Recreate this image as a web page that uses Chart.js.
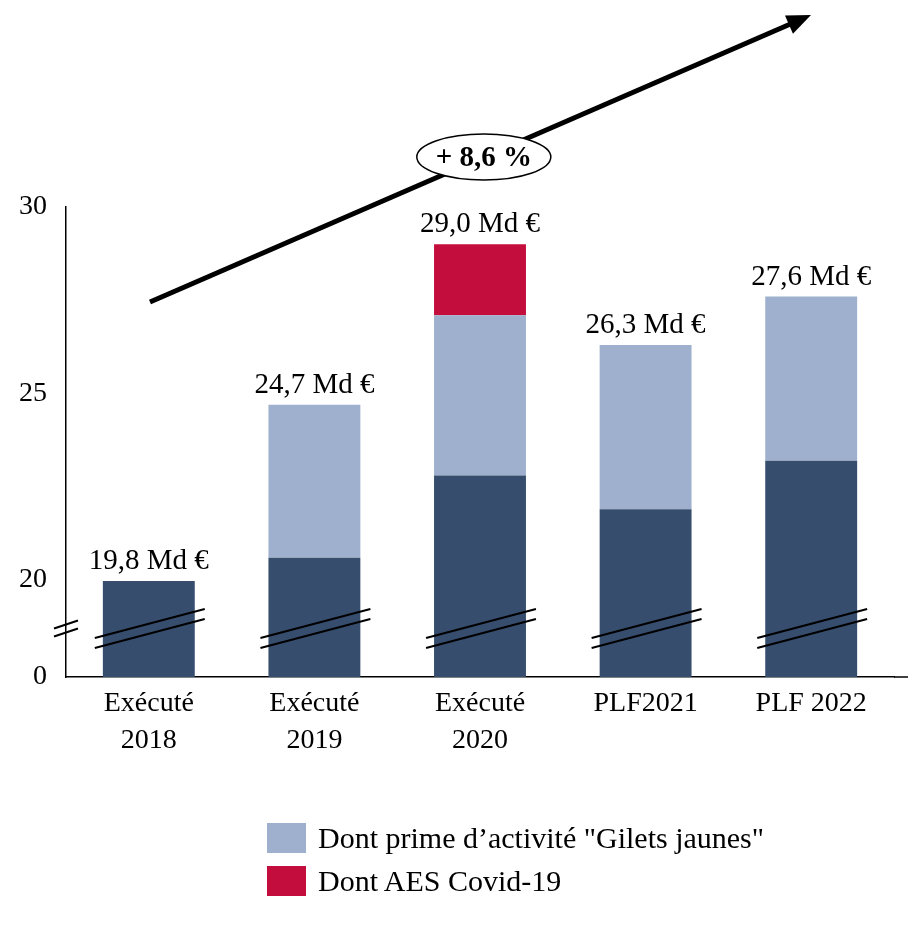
<!DOCTYPE html>
<html>
<head>
<meta charset="utf-8">
<script src="https://cdn.jsdelivr.net/npm/chart.js@4.4.1/dist/chart.umd.min.js"></script>
<style>
    body { margin: 0; background: #fff; }
    #wrap { position: relative; width: 908px; height: 930px; }
    #legend { position: absolute; left: 267px; top: 816px; font-family: 'Liberation Serif', serif; font-size: 30px; color: #000; }
    .item { display: flex; align-items: center; height: 43px; }
    .box { width: 39px; height: 30px; margin-right: 12px; }
</style>
</head>
<body>
<div id="wrap">
    <canvas id="barChart" width="908" height="930"></canvas>
    <div id="legend"></div>
</div>
<script>
const categories = [['Exécuté', '2018'], ['Exécuté', '2019'], ['Exécuté', '2020'], 'PLF2021', 'PLF 2022'];
const baseValues = [19.8, 20.6, 22.8, 21.9, 23.2];
const giletsJaunes = [0, 4.1, 4.3, 4.4, 4.4];
const aesCovid = [0, 0, 1.9, 0, 0];
const yTicks = [0, 20, 25, 30];

const colors = {
    base: '#364D6D',
    gilets: '#9EB0CD',
    aes: '#C30D3D'
};

// broken axis: 0..20 squeezed into 2.6 units, above 20 linear
const BREAK_AT = 20;
const BREAK_UNITS = 2.6;
function toDisplay(v) {
    return v >= BREAK_AT ? v - BREAK_AT + BREAK_UNITS : v * BREAK_UNITS / BREAK_AT;
}

const totals = baseValues.map((v, i) => v + giletsJaunes[i] + aesCovid[i]);

const decorations = {
    id: 'decorations',
    afterDatasetsDraw(chart) {
        const ctx = chart.ctx;
        const area = chart.chartArea;
        const y = chart.scales.y;
        const breakY = y.getPixelForValue(BREAK_UNITS / 2);
        ctx.save();

        // x axis line runs to the right edge
        ctx.strokeStyle = '#000';
        ctx.lineWidth = 1.5;
        ctx.beginPath();
        ctx.moveTo(area.right, area.bottom);
        ctx.lineTo(chart.width, area.bottom);
        ctx.stroke();

        // break marks on bars
        ctx.lineWidth = 2;
        const meta = chart.getDatasetMeta(0);
        meta.data.forEach(bar => {
            const x1 = bar.x - bar.width / 2 - 8;
            const x2 = bar.x + bar.width / 2 + 10;
            const cx = (x1 + x2) / 2;
            [-5, 5].forEach(off => {
                ctx.beginPath();
                ctx.moveTo(x1, breakY + off + (cx - x1) * 0.264);
                ctx.lineTo(x2, breakY + off - (x2 - cx) * 0.264);
                ctx.stroke();
            });
        });
        // break marks on y axis
        [-4, 4].forEach(off => {
            ctx.beginPath();
            ctx.moveTo(area.left - 12, breakY + off + 4);
            ctx.lineTo(area.left + 12, breakY + off - 4);
            ctx.stroke();
        });

        // total labels
        ctx.fillStyle = '#000';
        ctx.font = "29px 'Liberation Serif', serif";
        ctx.textAlign = 'center';
        ctx.textBaseline = 'alphabetic';
        meta.data.forEach((bar, i) => {
            const top = y.getPixelForValue(toDisplay(totals[i]));
            ctx.fillText(totals[i].toFixed(1).replace('.', ',') + ' Md €', bar.x, top - 12);
        });

        // growth arrow
        const sx = area.left + 84, sy = area.top + 95;
        const ex = area.left + 745, ey = 15;
        ctx.strokeStyle = '#000';
        ctx.lineWidth = 5;
        const ang = Math.atan2(ey - sy, ex - sx);
        ctx.beginPath();
        ctx.moveTo(sx, sy);
        ctx.lineTo(ex - 18 * Math.cos(ang), ey - 18 * Math.sin(ang));
        ctx.stroke();
        ctx.beginPath();
        ctx.moveTo(ex, ey);
        ctx.lineTo(ex - 24 * Math.cos(ang) + 10 * Math.sin(ang), ey - 24 * Math.sin(ang) - 10 * Math.cos(ang));
        ctx.lineTo(ex - 24 * Math.cos(ang) - 10 * Math.sin(ang), ey - 24 * Math.sin(ang) + 10 * Math.cos(ang));
        ctx.closePath();
        ctx.fill();

        // label bubble on the arrow
        const t = 0.505;
        const bx = sx + (ex - sx) * t, by = sy + (ey - sy) * t;
        ctx.beginPath();
        ctx.ellipse(bx, by, 67, 23, 0, 0, Math.PI * 2);
        ctx.fillStyle = '#fff';
        ctx.fill();
        ctx.lineWidth = 1.5;
        ctx.stroke();
        ctx.fillStyle = '#000';
        ctx.font = "bold 29px 'Liberation Serif', serif";
        ctx.textBaseline = 'middle';
        ctx.fillText('+ 8,6 %', bx, by + 1);
        ctx.restore();
    }
};

Chart.defaults.font.family = "'Liberation Serif', serif";
Chart.defaults.color = '#000';

const ctxBar = document.getElementById('barChart').getContext('2d');
const barChart = new Chart(ctxBar, {
    type: 'bar',
    data: {
        labels: categories,
        datasets: [{
            label: 'Base',
            data: baseValues.map(toDisplay),
            backgroundColor: colors.base,
            barPercentage: 0.555,
            categoryPercentage: 1
        },
        {
            label: 'Dont prime d\u2019activité "Gilets jaunes"',
            data: giletsJaunes,
            backgroundColor: colors.gilets,
            barPercentage: 0.555,
            categoryPercentage: 1
        },
        {
            label: 'Dont AES Covid-19',
            data: aesCovid,
            backgroundColor: colors.aes,
            barPercentage: 0.555,
            categoryPercentage: 1
        }]
    },
    options: {
        responsive: false,
        animation: false,
        layout: {
            padding: { top: 207, right: 14, left: 0, bottom: 0 }
        },
        plugins: {
            legend: { display: false },
            tooltip: { enabled: false }
        },
        scales: {
            x: {
                stacked: true,
                grid: { display: false, drawTicks: false },
                border: { color: '#000', width: 1.5 },
                ticks: {
                    font: { size: 28, lineHeight: 1.32 },
                    padding: 8
                },
                afterFit: scale => { scale.height = 253; }
            },
            y: {
                stacked: true,
                min: 0,
                max: toDisplay(30),
                grid: { display: false, drawTicks: false },
                border: { color: '#000', width: 1.5 },
                afterBuildTicks: scale => {
                    scale.ticks = yTicks.map(v => ({ value: toDisplay(v) }));
                },
                ticks: {
                    font: { size: 28 },
                    padding: 19,
                    callback: (value, index) => yTicks[index]
                },
                afterFit: scale => { scale.width = 66; }
            }
        }
    },
    plugins: [decorations]
});

// legend, only the two highlighted components
const legend = document.getElementById('legend');
barChart.data.datasets.slice(1).forEach(ds => {
    const item = document.createElement('div');
    item.className = 'item';
    const box = document.createElement('span');
    box.className = 'box';
    box.style.background = ds.backgroundColor;
    item.appendChild(box);
    item.appendChild(document.createTextNode(ds.label));
    legend.appendChild(item);
});
</script>
</body>
</html>
